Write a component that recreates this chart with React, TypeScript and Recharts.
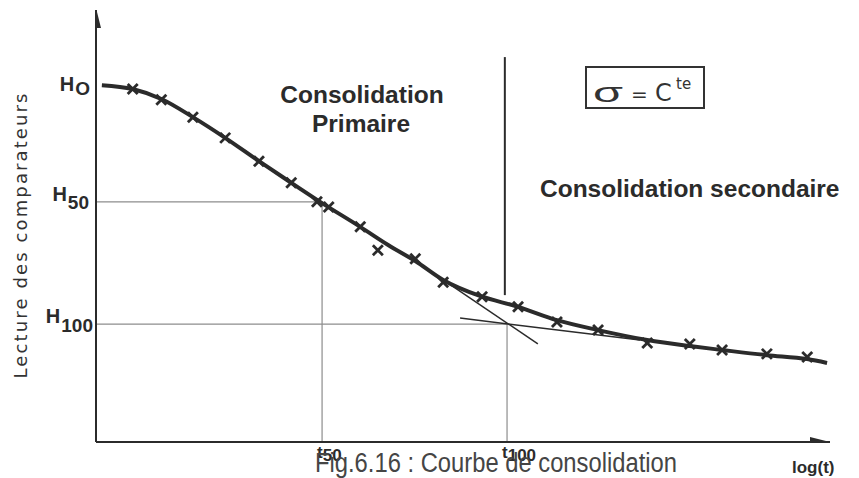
import { ComposedChart, Line, Scatter, XAxis, YAxis, ReferenceLine } from "recharts";

const INK = "#2b2b2b";
const GRID = "#8d8d8d";
const SANS = "'Liberation Sans', Arial, Helvetica, sans-serif";
const TECH = "'DejaVu Sans', sans-serif";

// smoothed consolidation curve: log(t) against dial reading (arbitrary units)
const curveLogT = [0.8, 5.0, 8.9, 13.2, 17.6, 22.2, 26.6, 30.8, 36.0, 39.8, 43.5, 47.3, 52.3, 57.5, 62.8, 68.4, 75.1, 80.9, 85.3, 91.4, 96.9, 99.6];
const curveReading = [82.6, 81.7, 79.4, 75.2, 70.4, 65.0, 60.0, 55.3, 49.8, 45.6, 41.9, 37.5, 33.8, 31.3, 28.2, 25.9, 23.6, 22.2, 21.3, 20.1, 19.2, 18.3];

// measured readings
const markerLogT = [5.0, 8.9, 13.2, 17.6, 22.2, 26.6, 30.1, 31.7, 36.0, 38.4, 43.5, 47.3, 52.6, 57.5, 62.8, 68.4, 75.1, 80.9, 85.3, 91.4, 96.9];
const markerReading = [81.7, 79.2, 75.2, 70.4, 65.0, 60.0, 55.6, 54.4, 49.8, 44.4, 42.4, 37.0, 33.6, 31.3, 27.8, 25.9, 22.9, 22.7, 21.3, 20.4, 19.7];

// tangents used to locate t100
const steepLogT = [46.9, 60.2];
const steepReading = [38.0, 22.7];
const flatLogT = [49.6, 74.1];
const flatReading = [28.7, 23.6];

// characteristic levels
const H0 = 82.6;
const H50 = 55.6;
const H100 = 27.3;
const T50 = 30.8;
const T100 = 56.0;
const yTicks = [H0, H50, H100];
const yTickSubs = ["O", "50", "100"];
const xTicks = [T50, T100];
const xTickSubs = ["50", "100"];

// primary / secondary boundary
const boundaryLogT = 55.7;
const boundaryReading = [89.1, 34.0];

const zip = (xs: number[], ys: number[]) => xs.map((x, i) => ({ x, y: ys[i] }));
const curveData = zip(curveLogT, curveReading);
const markerData = zip(markerLogT, markerReading);
const steepData = zip(steepLogT, steepReading);
const flatData = zip(flatLogT, flatReading);

function Cross({ cx, cy }: any) {
  return (
    <g stroke={INK} strokeWidth={2.8} strokeLinecap="butt">
      <line x1={cx - 5} y1={cy - 5} x2={cx + 5} y2={cy + 5} />
      <line x1={cx - 5} y1={cy + 5} x2={cx + 5} y2={cy - 5} />
    </g>
  );
}

function ArrowUp({ cx, cy }: any) {
  return <path d={`M${cx},${cy - 2} L${cx - 5},${cy + 18} L${cx + 5},${cy + 18} Z`} fill={INK} />;
}

function ArrowRight({ cx, cy }: any) {
  return <path d={`M${cx},${cy} L${cx - 20},${cy - 5} L${cx - 20},${cy + 5} Z`} fill={INK} />;
}

function YTick({ x, y, payload }: any) {
  const i = yTicks.indexOf(payload.value);
  const sub = yTickSubs[i];
  // H0 sits centred on its level, the others just above their line
  const layout = [
    { end: 6, base: 6, dy: 4 },
    { end: 7, base: -1, dy: 8 },
    { end: 3, base: -1, dy: 9 },
  ][i];
  return (
    <text x={x - layout.end} y={y + layout.base} textAnchor="end" fill={INK} fontFamily={SANS} fontWeight="bold">
      <tspan fontSize={20}>H</tspan>
      <tspan fontSize={19} dx={1} dy={layout.dy}>{sub}</tspan>
    </text>
  );
}

function XTick({ x, y, payload }: any) {
  const sub = xTickSubs[xTicks.indexOf(payload.value)];
  return (
    <text x={x - 5} y={y + 16} fill={INK} fontFamily={SANS} fontWeight="bold">
      <tspan fontSize={17}>t</tspan>
      <tspan fontSize={17} dy={3}>{sub}</tspan>
    </text>
  );
}

export default function App() {
  return (
    <div style={{ position: "absolute", left: 0, top: 0, width: 859, height: 478, background: "#fff" }}>
      <ComposedChart width={859} height={478} margin={{ top: 10, right: 29, bottom: 6, left: 6 }}>
        <XAxis
          type="number"
          dataKey="x"
          domain={[0, 100]}
          allowDataOverflow
          ticks={xTicks}
          interval={0}
          tickLine={false}
          tickSize={0}
          tickMargin={0}
          height={30}
          axisLine={{ stroke: INK, strokeWidth: 2 }}
          tick={(p: any) => <XTick {...p} />}
        />
        <YAxis
          type="number"
          dataKey="y"
          domain={[0, 100]}
          allowDataOverflow
          ticks={yTicks}
          interval={0}
          tickLine={false}
          tickSize={0}
          tickMargin={0}
          width={90}
          axisLine={{ stroke: INK, strokeWidth: 2 }}
          tick={(p: any) => <YTick {...p} />}
        />
        <ReferenceLine segment={[{ x: 0, y: H50 }, { x: T50, y: H50 }]} stroke={GRID} strokeWidth={1.2} />
        <ReferenceLine segment={[{ x: T50, y: 0 }, { x: T50, y: H50 }]} stroke={GRID} strokeWidth={1.2} />
        <ReferenceLine segment={[{ x: 0, y: H100 }, { x: T100, y: H100 }]} stroke={GRID} strokeWidth={1.2} />
        <ReferenceLine segment={[{ x: T100, y: 0 }, { x: T100, y: H100 }]} stroke={GRID} strokeWidth={1.2} />
        <ReferenceLine
          segment={[{ x: boundaryLogT, y: boundaryReading[0] }, { x: boundaryLogT, y: boundaryReading[1] }]}
          stroke={INK}
          strokeWidth={2}
        />
        <Line data={steepData} dataKey="y" type="linear" stroke={INK} strokeWidth={1.5} dot={false} isAnimationActive={false} />
        <Line data={flatData} dataKey="y" type="linear" stroke={INK} strokeWidth={1.5} dot={false} isAnimationActive={false} />
        <Line data={curveData} dataKey="y" type="monotone" stroke={INK} strokeWidth={4} dot={false} isAnimationActive={false} />
        <Scatter data={markerData} dataKey="y" shape={(p: any) => <Cross {...p} />} isAnimationActive={false} />
        <Scatter data={[{ x: 0, y: 100 }]} dataKey="y" shape={(p: any) => <ArrowUp {...p} />} isAnimationActive={false} />
        <Scatter data={[{ x: 100, y: 0 }]} dataKey="y" shape={(p: any) => <ArrowRight {...p} />} isAnimationActive={false} />
      </ComposedChart>
      <svg width={859} height={478} style={{ position: "absolute", left: 0, top: 0, pointerEvents: "none" }}>
        <text
          transform="rotate(-90)"
          x={-236}
          y={27}
          textAnchor="middle"
          fontFamily={TECH}
          fontSize={18}
          fill="#333"
          textLength={285}
          lengthAdjust="spacing"
        >
          Lecture des comparateurs
        </text>
        <g fontFamily={SANS} fontWeight="bold" fontSize={24.5} fill={INK} textAnchor="middle">
          <text x={362} y={103}>Consolidation</text>
          <text x={361} y={132}>Primaire</text>
          <text x={540} y={197} textAnchor="start">Consolidation secondaire</text>
        </g>
        <rect x={586} y={67} width={118} height={41} fill="none" stroke="#333" strokeWidth={2} />
        <g fontFamily={TECH} fill="#333">
          <text x={593} y={102} fontSize={28} fontFamily={SANS} textLength={30} lengthAdjust="spacingAndGlyphs">σ</text>
          <text x={631} y={101} fontSize={20}>=</text>
          <text x={655} y={101} fontSize={24}>C</text>
          <text x={676} y={89} fontSize={15}>te</text>
        </g>
        <text x={792} y={473} fontFamily={SANS} fontWeight="bold" fontSize={17} fill={INK}>log(t)</text>
        <text
          x={315}
          y={472}
          fontFamily={SANS}
          fontSize={27}
          fill="#454545"
          textLength={362}
          lengthAdjust="spacingAndGlyphs"
        >
          Fig.6.16 : Courbe de consolidation
        </text>
      </svg>
    </div>
  );
}
